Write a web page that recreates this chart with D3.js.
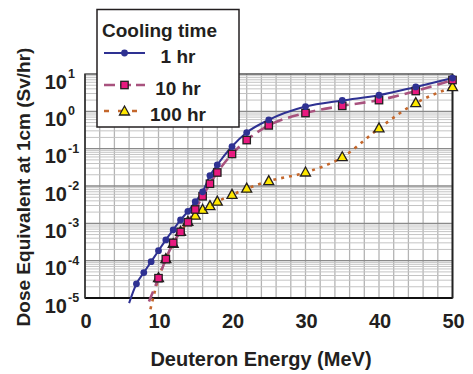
<!DOCTYPE html>
<html>
<head>
<meta charset="utf-8">
<script src="https://cdn.jsdelivr.net/npm/d3@7"></script>
<style>
  body { margin: 0; background: #fff; }
  text { font-family: "Liberation Sans", Arial, sans-serif; font-weight: bold; fill: #231f20; }
</style>
</head>
<body>
<script>
// energies (MeV) with markers
var energy1 = [7, 8, 9, 10, 11, 12, 13, 14, 15, 16, 17, 18, 20, 22, 25, 30, 35, 40, 45, 50]
var dose1 = [2.4e-5, 4.8e-5, 9.4e-5, 1.85e-4, 3.6e-4, 6.7e-4, 1.23e-3, 2.1e-3, 3.8e-3, 7e-3, 1.9e-2, 0.037, 0.114, 0.27, 0.59, 1.34, 1.95, 2.7, 4.5, 7.8]

var energy10 = [10, 11, 12, 13, 14, 15, 16, 17, 18, 20, 22, 25, 30, 35, 40, 45, 50]
var dose10 = [3.4e-5, 1.1e-4, 3.0e-4, 5.9e-4, 1.07e-3, 2.35e-3, 5.3e-3, 0.0115, 0.023, 0.072, 0.17, 0.42, 0.9, 1.4, 2.0, 3.5, 6.9]

var energy100 = [10, 11, 12, 13, 14, 15, 16, 17, 18, 20, 22, 25, 30, 35, 40, 45, 50]
var dose100 = [3.4e-5, 1.1e-4, 2.8e-4, 5.9e-4, 1.1e-3, 1.6e-3, 2.3e-3, 2.9e-3, 3.8e-3, 5.8e-3, 8.5e-3, 0.0135, 0.023, 0.059, 0.35, 1.66, 4.45]

// where each curve begins (line only, no marker)
var lineStartE = [6, 8.7, 8.9]
var lineStartV = [7.3e-6, 8e-6, 5e-6]

var seriesNames = ["1 hr", "10 hr", "100 hr"]
var xTicks = [0, 10, 20, 30, 40, 50]
var yDecades = [-5, -4, -3, -2, -1, 0, 1]

var width = 473, height = 374
var svg = d3.select("body").append("svg").attr("width", width).attr("height", height)

var x = d3.scaleLinear().domain([0, 50]).range([85, 452.5])
var y = d3.scaleLog().domain([1e-5, 10]).range([298, 74])

// grid
var grid = svg.append("g")
for (var e = 2; e < 50; e += 2) {
	grid.append("line").attr("x1", x(e)).attr("x2", x(e)).attr("y1", y(10)).attr("y2", y(1e-5))
		.attr("stroke", "#b4b4b4").attr("stroke-width", 1.3)
}
yDecades.forEach(function(d) {
	if (d == 1) return
	for (var m = 2; m <= 9; m++) {
		var v = m * Math.pow(10, d)
		grid.append("line").attr("x1", x(0)).attr("x2", x(50)).attr("y1", y(v)).attr("y2", y(v))
			.attr("stroke", "#c4c4c4").attr("stroke-width", 1)
	}
	if (d > -5) {
		grid.append("line").attr("x1", x(0)).attr("x2", x(50)).attr("y1", y(Math.pow(10, d))).attr("y2", y(Math.pow(10, d)))
			.attr("stroke", "#8a8a8a").attr("stroke-width", 1.3)
	}
})

// frame
svg.append("rect").attr("x", x(0)).attr("y", y(10)).attr("width", x(50) - x(0)).attr("height", y(1e-5) - y(10))
	.attr("fill", "none").attr("stroke", "#555").attr("stroke-width", 1.5)
svg.append("line").attr("x1", x(0)).attr("x2", x(50)).attr("y1", y(1e-5)).attr("y2", y(1e-5)).attr("stroke", "#111").attr("stroke-width", 1.8)
svg.append("line").attr("x1", x(0)).attr("x2", x(0)).attr("y1", y(10)).attr("y2", y(1e-5)).attr("stroke", "#333").attr("stroke-width", 1.5)
svg.append("line").attr("x1", x(50)).attr("x2", x(50)).attr("y1", y(10)).attr("y2", y(1e-5)).attr("stroke", "#222").attr("stroke-width", 1.8)

// tick labels
svg.selectAll(".xt").data(xTicks).enter().append("text")
	.attr("x", function(d) { return x(d) + 1 }).attr("y", 328)
	.attr("text-anchor", "middle").style("font-size", "20px").text(function(d) { return d })

yDecades.forEach(function(d) {
	var ty = y(Math.pow(10, d))
	svg.append("text").attr("x", 67).attr("y", ty + 14.5).attr("text-anchor", "end")
		.style("font-size", "20px").text("10")
	svg.append("text").attr("x", 68).attr("y", ty + 4).style("font-size", "12.5px").text(d)
})

svg.append("text").attr("x", 261).attr("y", 366).attr("text-anchor", "middle")
	.style("font-size", "20px").text("Deuteron Energy (MeV)")
svg.append("text").attr("transform", "translate(30,187) rotate(-90)").attr("text-anchor", "middle")
	.style("font-size", "19px").text("Dose Equivalent at 1cm (Sv/hr)")

// series
var styles = [
	{ color: "#2e3192", dash: null, width: 2, marker: "circle" },
	{ color: "#a8527e", dash: "11,6", width: 2.6, marker: "square" },
	{ color: "#c4672c", dash: "3,5", width: 2.6, marker: "triangle" }
]
var series = [
	{ e: energy1, v: dose1 },
	{ e: energy10, v: dose10 },
	{ e: energy100, v: dose100 }
]

var line = d3.line().x(function(d) { return x(d[0]) }).y(function(d) { return y(d[1]) }).curve(d3.curveMonotoneX)

function drawMarker(g, kind, cx, cy) {
	if (kind == "circle") {
		g.append("circle").attr("cx", cx).attr("cy", cy).attr("r", 3.4).attr("fill", "#2e3192")
	} else if (kind == "square") {
		g.append("rect").attr("x", cx - 3.7).attr("y", cy - 3.7).attr("width", 7.4).attr("height", 7.4)
			.attr("fill", "#e8197f").attr("stroke", "#231f20").attr("stroke-width", 1.3)
	} else {
		g.append("path").attr("d", "M" + cx + "," + (cy - 5.5) + "L" + (cx + 5) + "," + (cy + 3.5) + "L" + (cx - 5) + "," + (cy + 3.5) + "Z")
			.attr("fill", "#ffe800").attr("stroke", "#231f20").attr("stroke-width", 1.3)
	}
}

// draw lines back to front: 100 hr, 10 hr, 1 hr
for (var i = 2; i >= 0; i--) {
	var pts = [[lineStartE[i], lineStartV[i]]]
	series[i].e.forEach(function(d, j) { pts.push([d, series[i].v[j]]) })
	svg.append("path").attr("d", line(pts)).attr("fill", "none")
		.attr("stroke", styles[i].color).attr("stroke-width", styles[i].width)
		.attr("stroke-dasharray", styles[i].dash)
}
for (var i = 2; i >= 0; i--) {
	var g = svg.append("g")
	series[i].e.forEach(function(d, j) { drawMarker(g, styles[i].marker, x(d), y(series[i].v[j])) })
}

// legend
var leg = svg.append("g")
leg.append("rect").attr("x", 97).attr("y", 9.5).attr("width", 142).attr("height", 117.5)
	.attr("fill", "#fff").attr("stroke", "#231f20").attr("stroke-width", 1.5)
leg.append("text").attr("x", 102).attr("y", 37).style("font-size", "19px").text("Cooling time")
var legY = [53, 85, 111]
seriesNames.forEach(function(name, i) {
	leg.append("line").attr("x1", 104).attr("x2", 145).attr("y1", legY[i]).attr("y2", legY[i])
		.attr("stroke", styles[i].color).attr("stroke-width", styles[i].width)
		.attr("stroke-dasharray", i == 0 ? null : (i == 1 ? "11,5" : "5,9"))
	drawMarker(leg, styles[i].marker, 124.5, legY[i] + (i == 2 ? 0.5 : 0))
	leg.append("text").attr("x", 178).attr("y", legY[i] + 10).attr("text-anchor", "middle")
		.style("font-size", "19px").text(name)
})
</script>
</body>
</html>
